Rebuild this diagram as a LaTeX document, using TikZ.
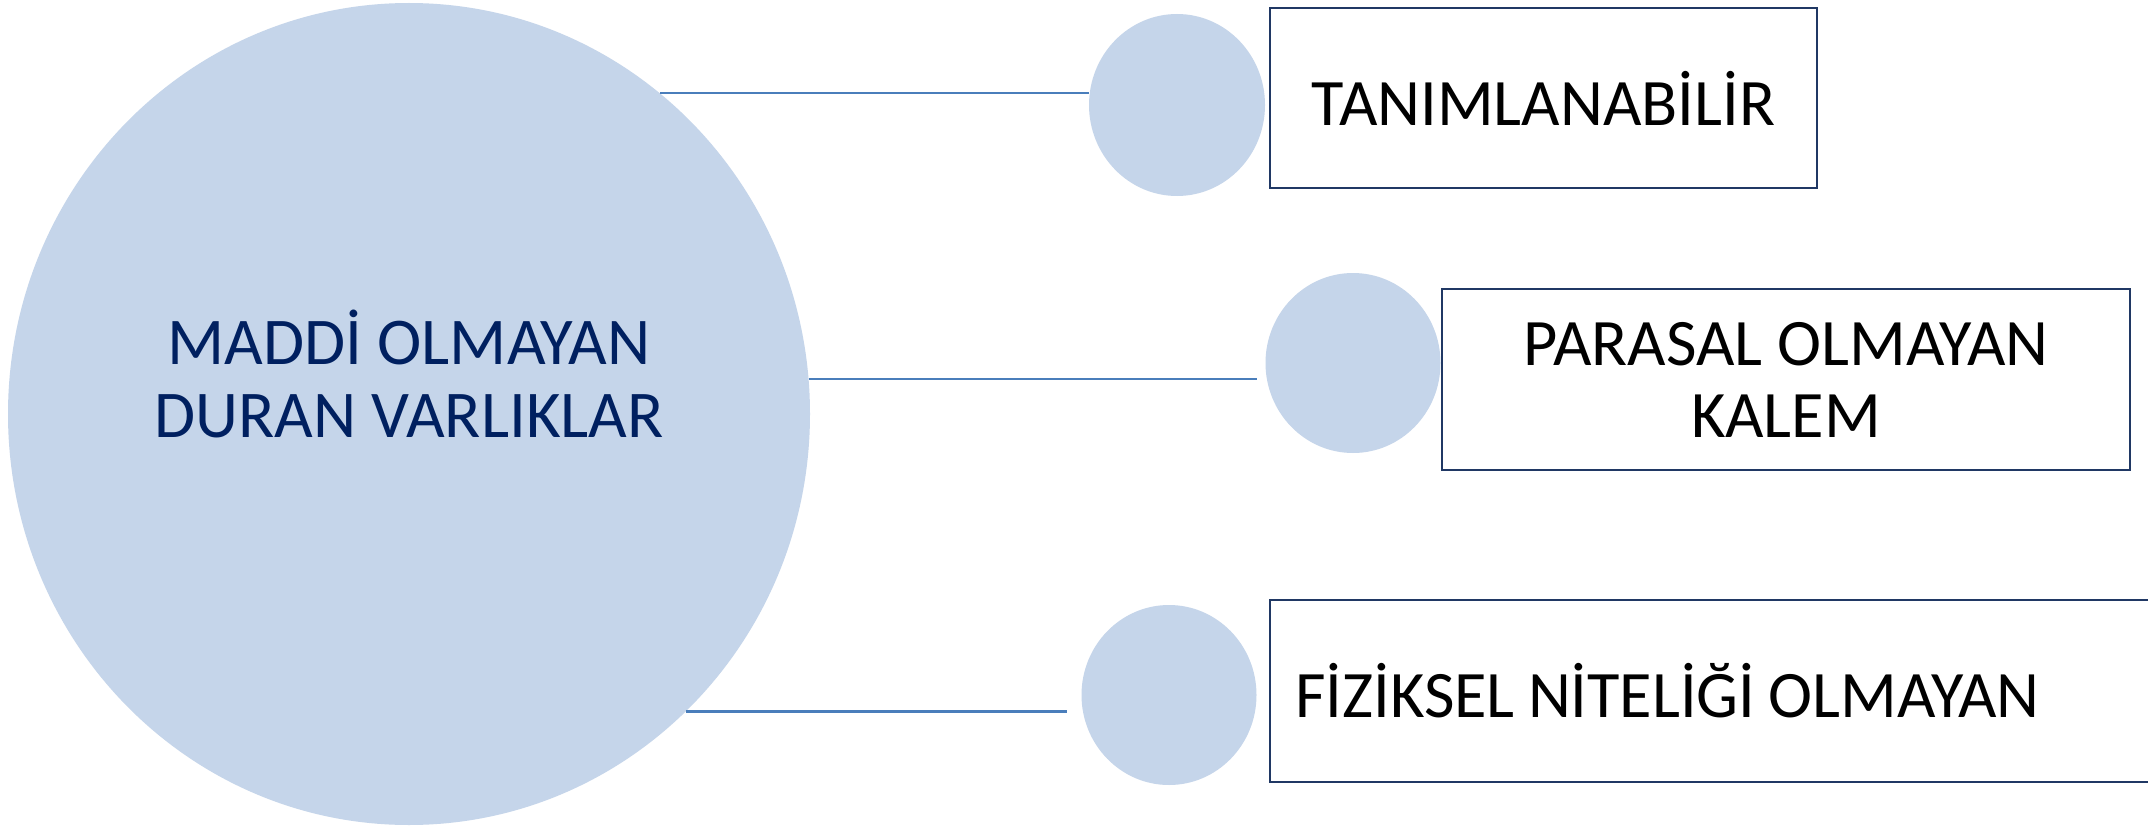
\documentclass[tikz,border=0pt]{standalone}
\usepackage{fontspec}
\setmainfont{Carlito}
\usetikzlibrary{shapes.geometric}
\definecolor{disc}{HTML}{C5D5EA}
\definecolor{linkblue}{HTML}{4A7EBB}
\definecolor{navy}{HTML}{002060}
\definecolor{frame}{HTML}{203864}
\tikzset{
  disc/.style={ellipse, fill=disc, draw=none, inner sep=0pt},
  link/.style={draw=linkblue, line width=1.1pt},
  itembox/.style={draw=frame, line width=0.9pt, fill=white, inner sep=0pt,
    font=\fontsize{33.2}{36}\selectfont, align=center},
}
\begin{document}
\begin{tikzpicture}[x=0.5pt, y=-0.5pt]
\clip (0,0) rectangle (2148,829);
\fill[white] (0,0) rectangle (2148,829);

% central disc
\node[disc, minimum width=401pt, minimum height=411pt] (big) at (409,414) {};
\node[text=navy, font=\fontsize{33.4}{36.3}\selectfont, align=center] (bigtext) at (409,374)
  {MADDİ OLMAYAN\\DURAN VARLIKLAR};

% small discs
\node[disc, minimum width=88pt, minimum height=91pt] (c1) at (1177,105) {};
\node[disc, minimum width=87.5pt, minimum height=90pt] (c2) at (1353,363) {};
\node[disc, minimum width=87.5pt, minimum height=90pt] (c3) at (1169,695) {};

% labelled boxes
\node[itembox, minimum width=273.5pt, minimum height=90pt] (b1) at (1543.5,98) {TANIMLANABİLİR};
\node[itembox, minimum width=344pt, minimum height=90.5pt] (b2) at (1786,379.5) {PARASAL OLMAYAN\\KALEM};
\node[itembox, minimum width=465pt, minimum height=91pt, text width=440pt,
      inner xsep=12.5pt, align=left] (b3) at (1735,691)
  {\spaceskip=0.2em FİZİKSEL NİTELİĞİ OLMAYAN};

% connectors
\draw[link] (big.52) -- (c1.west |- big.52);
\draw[link, shorten >=4pt] (big.5.6) -- (c2.west |- big.5.6);
\draw[link, shorten >=7pt] (big.-47) -- (c3.west |- big.-47);
\end{tikzpicture}
\end{document}
